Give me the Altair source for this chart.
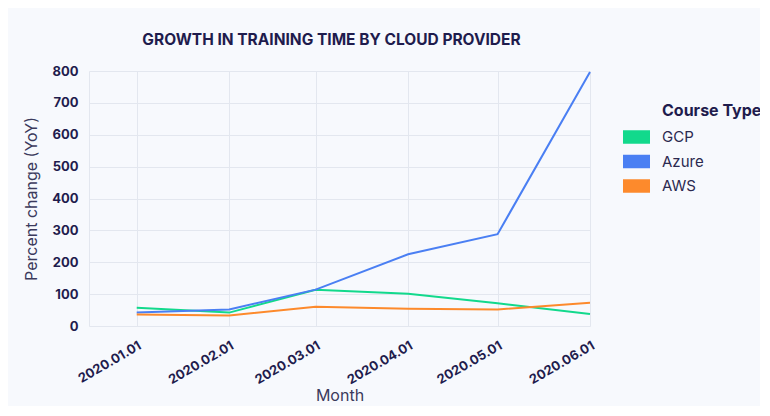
import altair as alt
import pandas as pd

months = ["2020-01-01", "2020-02-01", "2020-03-01", "2020-04-01", "2020-05-01", "2020-06-01"]
gcp = [57, 42, 114, 101, 71, 38]
azure = [42, 52, 114, 225, 288, 797]
aws = [36, 33, 60, 54, 52, 73]
providers = ["GCP", "Azure", "AWS"]
colors = ["#12d98c", "#4a7ff3", "#fd8a2c"]

rows = []
for name, vals in zip(providers, [gcp, azure, aws]):
    for m, v in zip(months, vals):
        rows.append({"Month": m, "Value": v, "Course Type": name})
df = pd.DataFrame(rows)

navy = "#1f1c4d"
grid = "#e3e7ef"
FONT = "Inter"
RECT = "M-1.5,-0.75H1.5V0.75H-1.5Z"

x_enc = alt.X("Month:T",
              scale=alt.Scale(domain=["2019-12-16", "2020-06-01"], nice=False),
              axis=alt.Axis(title="Month", format="%Y.%m.%d",
                            values=months, labelAngle=-30, labelAlign="right",
                            labelBaseline="top", labelPadding=13,
                            labelFont=FONT, labelFontSize=13, labelFontWeight="bold",
                            labelColor=navy, ticks=False, domain=False,
                            grid=True, gridColor=grid,
                            titleFont=FONT, titleFontSize=16, titleFontWeight="normal",
                            titleColor="#3b3a5c", titlePadding=1))
y_enc = alt.Y("Value:Q",
              scale=alt.Scale(domain=[0, 800], nice=False),
              axis=alt.Axis(title="Percent change (YoY)", values=list(range(0, 801, 100)),
                            labelFont=FONT, labelFontSize=13, labelFontWeight="bold",
                            labelColor=navy, labelPadding=11, ticks=False,
                            domain=True, domainColor=grid,
                            grid=True, gridColor=grid,
                            titleFont=FONT, titleFontSize=16, titleFontWeight="normal",
                            titleColor="#3b3a5c", titlePadding=12))
c_enc = alt.Color("Course Type:N",
                  scale=alt.Scale(domain=providers, range=colors),
                  sort=providers,
                  legend=alt.Legend(orient="none", legendX=573, legendY=32,
                                    title="Course Type",
                                    titleFont=FONT, titleFontSize=16, titleFontWeight="bold",
                                    titleColor=navy, titlePadding=9,
                                    labelFont=FONT, labelFontSize=15, labelColor="#2b2950",
                                    symbolType=RECT, symbolSize=324,
                                    symbolStrokeWidth=0, symbolOpacity=1,
                                    symbolOffset=-34.5,
                                    labelOffset=16.5, rowPadding=7.5))

base = alt.Chart(df)
points = base.mark_point(filled=True, shape=RECT, opacity=0, size=1).encode(
    x=x_enc, y=y_enc, color=c_enc)
lines = base.mark_line(strokeWidth=2).encode(x=x_enc, y=y_enc, color=c_enc)

chart = alt.layer(points, lines).properties(
    width=501, height=255,
    title=alt.Title("GROWTH IN TRAINING TIME BY CLOUD PROVIDER", font=FONT, fontSize=15.5,
                    fontWeight="bold", color=navy, anchor="middle", dx=-8, offset=17),
    background="#f7f9fd",
    padding={"left": 81, "top": 63, "right": 170, "bottom": 80},
    autosize=alt.AutoSizeParams(type="none"),
).configure_view(stroke=None)

chart.save("out.html", embed_options={"renderer": "svg", "actions": False})
